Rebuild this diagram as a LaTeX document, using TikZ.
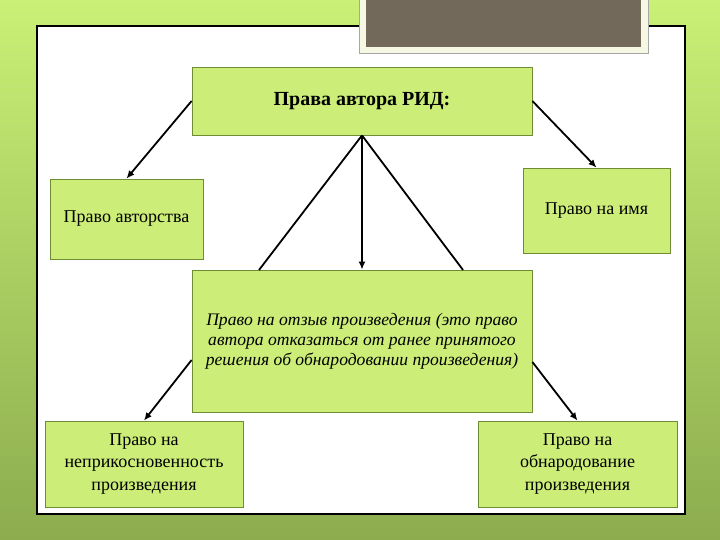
\documentclass[tikz,border=0pt]{standalone}
\usepackage{fontspec}
\setmainfont{Liberation Serif}
\usetikzlibrary{arrows.meta, positioning}

\definecolor{boxgreen}{RGB}{204,238,120}
\definecolor{boxline}{RGB}{110,140,50}
\definecolor{bgtop}{RGB}{202,240,118}
\definecolor{bgbottom}{RGB}{140,172,78}
\definecolor{tabgray}{RGB}{114,105,90}
\definecolor{tabframe}{RGB}{246,248,228}

\tikzset{
    box/.style={draw=boxline, fill=boxgreen, line width=0.8pt, align=center,
        inner sep=2pt, font=\fontsize{18}{22}\selectfont},
    link/.style={line width=1.8pt, black},
    arrowlink/.style={link, -{Latex[length=8pt, width=7pt]}}
}

\begin{document}
\begin{tikzpicture}[x=1pt, y=-1pt]
    \useasboundingbox (0, 0) rectangle (720, 540);
    % background and panel
    \shade[top color=bgtop, bottom color=bgbottom] (0, 0) rectangle (720, 540);
    \fill[white, draw=black, line width=1.2pt] (37, 26) rectangle (685, 514);
    \fill[tabframe, draw=gray!70, line width=0.6pt] (359, -2) rectangle (648, 53);
    \fill[tabgray] (366, -2) rectangle (641, 47);

    % boxes
    \node[box, minimum width=340pt, minimum height=68pt] (P0) at (362, 101)
        {\fontsize{20}{22}\selectfont\bfseries Права автора РИД:};
    \node[box, minimum width=153pt, minimum height=80pt] (P1) at (126.5, 219) {\raisebox{-3pt}{Право авторства}};
    \node[box, minimum width=147pt, minimum height=85pt] (P2) at (596.5, 210.5) {Право на имя};
    \node[box, minimum width=340pt, minimum height=142pt, font=\fontsize{17.6}{20}\selectfont\itshape] (P3) at (362, 341)
        {Право на отзыв произведения (это право\\ автора отказаться от ранее принятого\\ решения об обнародовании произведения)};
    \node[box, minimum width=198pt, minimum height=86pt, font=\fontsize{18}{22.5}\selectfont] (P4) at (144, 464)
        {Право на\\ неприкосновенность\\ произведения};
    \node[box, minimum width=199pt, minimum height=86pt, font=\fontsize{18}{22.5}\selectfont] (P5) at (577.5, 464)
        {Право на\\ обнародование\\ произведения};

    % connectors
    \coordinate (L) at (259, 270);
    \coordinate (R) at (463, 270);
    \draw[arrowlink] (P0.west) -- (P1.north);
    \draw[arrowlink] (P0.east) -- (P2.north);
    \draw[arrowlink] (P0.south) -- (P3.north);
    \draw[link] (P0.south) -- (L);
    \draw[link] (P0.south) -- (R);
    \draw[arrowlink] ([yshift=-19pt]P3.west) -- (P4.north);
    \draw[arrowlink] ([yshift=-21pt]P3.east) -- (P5.north);
\end{tikzpicture}
\end{document}
